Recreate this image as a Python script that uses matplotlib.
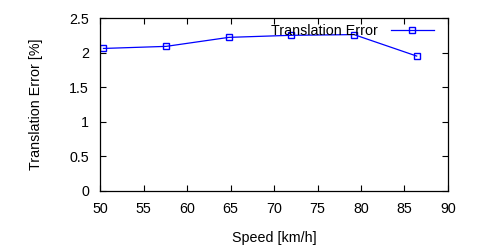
import matplotlib
matplotlib.use('Agg')
import matplotlib.pyplot as plt

# Скорость и ошибка трансляции
speed_kmh = [50.4, 57.6, 64.8, 72.0, 79.2, 86.4]
trans_error = [2.06, 2.09, 2.22, 2.25, 2.26, 1.95]

plt.rcParams['font.family'] = ['Liberation Sans', 'DejaVu Sans']
plt.rcParams['font.size'] = 10.3

fig = plt.figure(figsize=(5, 2.5), dpi=100)
ax = fig.add_axes([0.2, 0.236, 0.696, 0.692])

ax.plot(speed_kmh, trans_error, color='blue', linewidth=0.9, marker='s',
        markersize=5, markerfacecolor='none', markeredgecolor='blue',
        markeredgewidth=1.0, label='Translation Error')

ax.set_xlim(50, 90)
ax.set_ylim(0, 2.5)
ax.set_xticks(range(50, 91, 5))
ax.set_yticks([0, 0.5, 1, 1.5, 2, 2.5])
ax.set_yticklabels(['0', '0.5', '1', '1.5', '2', '2.5'])
ax.tick_params(direction='in', top=True, right=True, length=4, width=0.8, pad=8)
for s in ax.spines.values():
    s.set_linewidth(0.9)

ax.set_xlabel('Speed [km/h]', labelpad=11)
ax.set_ylabel('Translation Error [%]', labelpad=19)

ax.legend(loc='upper right', frameon=False, markerfirst=False,
          handlelength=3.0, handletextpad=0.9, borderaxespad=0.0,
          bbox_to_anchor=(0.975, 1.0))

fig.savefig('out.png', dpi=100)
